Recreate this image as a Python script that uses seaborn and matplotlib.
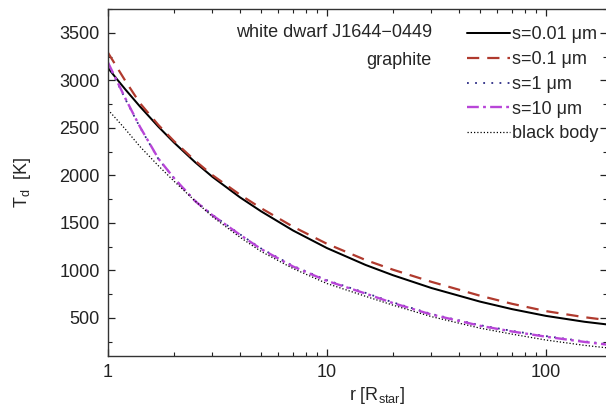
import pandas as pd
import seaborn as sns
import matplotlib.pyplot as plt
from matplotlib.ticker import LogLocator, MultipleLocator, NullFormatter

# ── Data ───────────────────────────────────────────────────────────────────────
r = [1, 1.1, 1.2, 1.4, 1.7, 2, 2.5, 3, 4, 5, 7, 10, 15, 20, 30, 50, 70, 100, 150, 190]

t_s001 = [3130, 3010, 2904, 2724, 2511, 2346, 2138, 1984, 1770, 1622, 1420, 1235,
          1058, 950, 815, 672, 593, 522, 460, 432]
t_s01 = [3290, 3135, 2994, 2759, 2529, 2361, 2154, 2002, 1798, 1655, 1460, 1280,
         1110, 1008, 880, 734, 649, 572, 508, 478]
t_s1 = [3170, 2980, 2802, 2505, 2172, 1972, 1732, 1584, 1381, 1231, 1048, 897,
        764, 664, 542, 424, 364, 309, 254, 226]
t_s10 = [3187, 2990, 2810, 2510, 2175, 1972, 1729, 1580, 1376, 1225, 1041, 890,
         757, 657, 536, 418, 358, 303, 248, 220]
t_bb = [2690, 2584, 2486, 2303, 2100, 1940, 1730, 1565, 1350, 1200, 1020, 862,
        728, 635, 514, 393, 330, 268, 212, 186]

labels = ["s=0.01 μm", "s=0.1 μm", "s=1 μm", "s=10 μm", "black body"]
xtick_vals = [1, 10, 100]
xtick_labels = ["1", "10", "100"]
ytick_vals = [500, 1000, 1500, 2000, 2500, 3000, 3500]

# ── Styles ─────────────────────────────────────────────────────────────────────
STYLES = [
    dict(color="black", linewidth=1.45, linestyle="-"),
    dict(color="#b03a2e", linewidth=1.6, linestyle=(0, (5.5, 3.6))),
    dict(color="#2b2b85", linewidth=1.3, linestyle=(0, (1, 3.5))),
    dict(color="#b845d8", linewidth=1.7, linestyle=(0, (5, 1.8, 1.2, 1.8))),
    dict(color="black", linewidth=0.9, linestyle=(0, (1, 1.6))),
]

sns.set_style("ticks")
plt.rcParams["font.family"] = ["Liberation Sans", "DejaVu Sans"]
plt.rcParams["font.size"] = 13
plt.rcParams["mathtext.default"] = "regular"

fig = plt.figure(figsize=(6.06, 4.12), dpi=100)
W, H = 606, 412
ax = fig.add_axes([108 / W, (H - 356) / H, 499 / W, 347 / H])

series = [t_s001, t_s01, t_s1, t_s10, t_bb]
for vals, lab, st in zip(series, labels, STYLES):
    df = pd.DataFrame({"r": r, "T": vals})
    sns.lineplot(data=df, x="r", y="T", ax=ax, label=lab, **st)

ax.set_xscale("log")
ax.set_xlim(1, 190)
ax.set_ylim(100, 3750)

ax.set_xticks(xtick_vals, xtick_labels)
ax.xaxis.set_minor_locator(LogLocator(base=10, subs=range(2, 10)))
ax.xaxis.set_minor_formatter(NullFormatter())
ax.set_yticks(ytick_vals)
ax.yaxis.set_minor_locator(MultipleLocator(250))

ax.tick_params(which="both", direction="in", top=True, right=True,
               colors="#222222", labelsize=13, pad=6)
ax.tick_params(which="major", length=5, width=0.9)
ax.tick_params(which="minor", length=3, width=0.8)
for sp in ax.spines.values():
    sp.set_linewidth(1.0)
    sp.set_color("#333333")

ax.set_xlabel("r [R$_{star}$]", fontsize=13)
ax.set_ylabel("T$_{d}$  [K]", fontsize=13)
ax.xaxis.set_label_coords(0.54, -0.083)
ax.yaxis.set_label_coords(-0.15, 0.5)

ax.text(0.649, 0.931, "white dwarf J1644\u22120449", transform=ax.transAxes,
        ha="right", va="center", fontsize=13)
ax.text(0.649, 0.853, "graphite", transform=ax.transAxes,
        ha="right", va="center", fontsize=13)

ax.legend(loc="upper left", bbox_to_anchor=(0.72, 0.95), frameon=False,
          fontsize=13, handlelength=2.35, handletextpad=0.15,
          labelspacing=0.43, borderpad=0, borderaxespad=0)

plt.savefig("out.png", dpi=100)
